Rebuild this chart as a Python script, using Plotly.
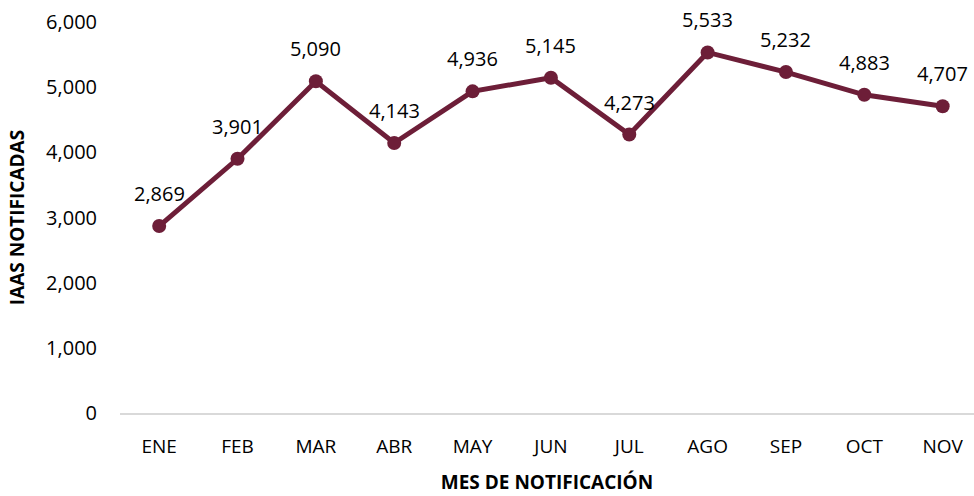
import plotly.graph_objects as go

months = ["ENE", "FEB", "MAR", "ABR", "MAY", "JUN", "JUL", "AGO", "SEP", "OCT", "NOV"]
values = [2869, 3901, 5090, 4143, 4936, 5145, 4273, 5533, 5232, 4883, 4707]
y_ticks = [0, 1000, 2000, 3000, 4000, 5000, 6000]

color = "#6D1E38"
font_family = "Open Sans, Calibri, sans-serif"

fig = go.Figure()
fig.add_trace(go.Scatter(
    x=months, y=values, mode="lines+markers",
    line=dict(color=color, width=5),
    marker=dict(color=color, size=14),
    cliponaxis=False,
    hoverinfo="skip",
))

for m, v in zip(months, values):
    fig.add_annotation(
        x=m, y=v, text=f"{v:,}", showarrow=False,
        yanchor="bottom", yshift=17,
        font=dict(family=font_family, size=20, color="#000000"),
    )

fig.update_layout(
    width=974, height=496,
    margin=dict(l=120, r=0, t=22, b=83),
    paper_bgcolor="white", plot_bgcolor="white",
    showlegend=False,
    font=dict(family=font_family, size=19, color="#000000"),
)
fig.update_xaxes(
    range=[-0.5, 10.4], showgrid=False, zeroline=False,
    showline=True, linecolor="#D9D9D9", linewidth=2,
    ticks="", ticklabelstandoff=15,
    tickfont=dict(size=19),
    title=dict(text="<b>MES DE NOTIFICACIÓN</b>", font=dict(size=19), standoff=18),
)
fig.update_yaxes(
    range=[0, 6000], showgrid=False, zeroline=False, showline=False,
    tickvals=y_ticks, tickformat=",d", ticks="", ticklabelstandoff=22,
    tickfont=dict(size=20),
    title=dict(text="<b>IAAS NOTIFICADAS</b>", font=dict(size=19), standoff=16),
)

fig.write_html("out.html", config={"displayModeBar": False},
               post_script="document.body.style.margin='0';document.body.style.padding='0';")
